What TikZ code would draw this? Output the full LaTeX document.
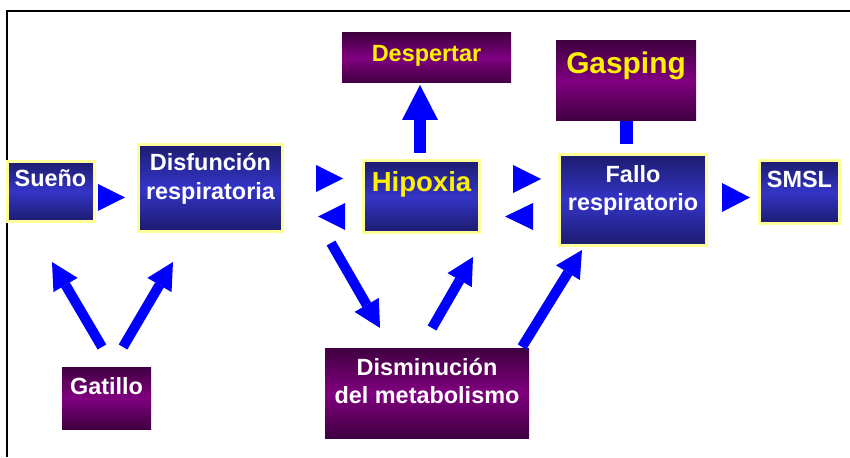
\documentclass[tikz,border=0pt]{standalone}
\usepackage{fontspec}
\setmainfont{Liberation Sans}
\usepackage{tikz}
\usetikzlibrary{positioning}
\usetikzlibrary{arrows.meta}
\definecolor{navy}{HTML}{1C1C6E}
\definecolor{midblue}{HTML}{3434C8}
\definecolor{darkpurple}{HTML}{400040}
\definecolor{midpurple}{HTML}{800080}
\definecolor{paleyellow}{HTML}{FFFF99}
\tikzset{
  bluebox/.style={draw=paleyellow, line width=0.09cm, top color=navy, bottom color=navy, middle color=midblue, outer sep=0pt},
  purplebox/.style={top color=darkpurple, bottom color=darkpurple, middle color=midpurple, outer sep=0pt},
  boxtext/.style={white, font=\bfseries\fontsize{20}{24}\selectfont, align=center, inner sep=0pt},
  thinarrow/.style={blue, line width=0.3cm, -{Triangle[width=0.84cm,length=0.8cm,line width=0pt]}},
  bigarrow/.style={blue, line width=0.36cm, -{Triangle[width=1.08cm,length=1.05cm,line width=0pt]}},
  tri/.style={fill=blue}
}

\begin{document}
\begin{tikzpicture}
\useasboundingbox (0,0) rectangle (25.5,13.71);
\draw[line width=0.06cm] (0.195,0) -- (0.195,13.38) -- (25.5,13.38);

% boxes
\node[bluebox, minimum width=2.61cm, minimum height=1.80cm] (sueno) at (1.515,7.965) {};
\node[bluebox, minimum width=4.32cm, minimum height=2.61cm] (disf) at (6.315,8.07) {};
\node[bluebox, minimum width=3.48cm, minimum height=2.16cm] (hipoxia) at (12.645,7.815) {};
\node[bluebox, minimum width=4.41cm, minimum height=2.73cm] (fallo) at (18.99,7.71) {};
\node[bluebox, minimum width=2.40cm, minimum height=1.89cm] (smsl) at (23.985,7.95) {};
\node[purplebox, minimum width=5.07cm, minimum height=1.50cm] (despertar) at (12.795,11.97) {};
\node[purplebox, minimum width=4.20cm, minimum height=2.40cm] (gasping) at (18.78,11.28) {};
\node[purplebox, minimum width=2.67cm, minimum height=1.86cm] (gatillo) at (3.195,1.77) {};
\node[purplebox, minimum width=6.12cm, minimum height=2.70cm] (dismin) at (12.81,1.92) {};

% texts
\node[boxtext, below=0.24cm of sueno.north] (sueno-t) {Sueño};
\node[boxtext, below=0.27cm of disf.north] (disf-t) {Disfunción\\respiratoria};
\node[boxtext, yellow, font=\bfseries\fontsize{23.5}{28}\selectfont, below=0.33cm of hipoxia.north] (hipoxia-t) {Hipoxia};
\node[boxtext, below=0.33cm of fallo.north] (fallo-t) {Fallo\\respiratorio};
\node[boxtext, below=0.30cm of smsl.north] (smsl-t) {SMSL};
\node[boxtext, yellow, below=0.36cm of despertar.north] (despertar-t) {Despertar};
\node[boxtext, yellow, font=\bfseries\fontsize{25.5}{30}\selectfont, below=0.33cm of gasping.north] (gasping-t) {Gasping};
\node[boxtext, below=0.30cm of gatillo.north] (gatillo-t) {Gatillo};
\node[boxtext, below=0.30cm of dismin.north] (dismin-t) {Disminución\\del metabolismo};

% triangles
\fill[tri] (2.94,7.38) -- ++(0,0.81) -- ++(0.81,-0.405) -- cycle;
\fill[tri] (9.48,7.95) -- ++(0,0.81) -- ++(0.81,-0.405) -- cycle;
\fill[tri] (10.35,6.81) -- ++(0,0.81) -- ++(-0.81,-0.405) -- cycle;
\fill[tri] (15.39,7.92) -- ++(0,0.84) -- ++(0.84,-0.42) -- cycle;
\fill[tri] (15.99,6.81) -- ++(0,0.81) -- ++(-0.84,-0.405) -- cycle;
\fill[tri] (21.66,7.35) -- ++(0,0.87) -- ++(0.84,-0.435) -- cycle;

% arrow ends
\coordinate (ga-a) at (3.06,3.30);
\coordinate (su-a) at (1.56,5.85);
\coordinate (ga-b) at (3.69,3.30);
\coordinate (di-a) at (5.19,5.85);
\coordinate (di-b) at (9.93,6.42);
\coordinate (dm-a) at (11.40,3.87);
\coordinate (dm-b) at (12.96,3.87);
\coordinate (hi-a) at (14.19,6.00);
\coordinate (dm-c) at (15.66,3.30);
\coordinate (fa-a) at (17.46,6.21);
\coordinate (hi-b) at (12.60,9.12);
\coordinate (de-a) at (12.60,11.16);
\coordinate (fa-b) at (18.78,9.39);

\draw[thinarrow] (ga-a) -- (su-a);
\draw[thinarrow] (ga-b) -- (di-a);
\draw[thinarrow] (di-b) -- (dm-a);
\draw[thinarrow] (dm-b) -- (hi-a);
\draw[thinarrow] (dm-c) -- (fa-a);
\draw[bigarrow] (hi-b) -- (de-a);
\draw[blue, line width=0.39cm] (gasping.south) -- (fa-b);
\end{tikzpicture}
\end{document}
